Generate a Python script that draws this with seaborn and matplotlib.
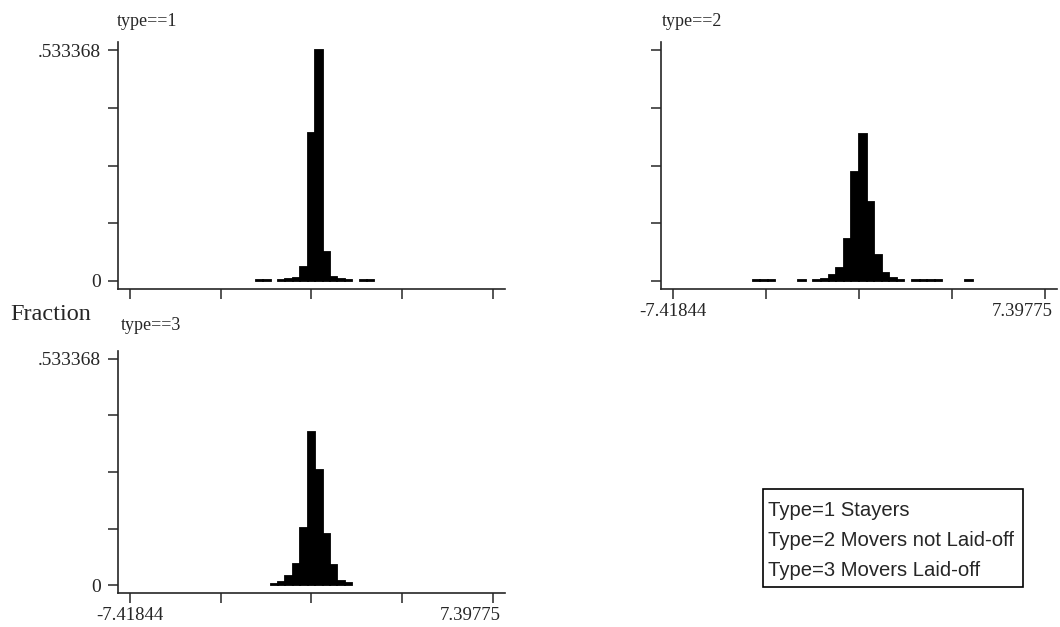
import numpy as np
import pandas as pd
import matplotlib
matplotlib.use("Agg")
import matplotlib.pyplot as plt
from matplotlib.patches import Rectangle
from matplotlib.transforms import ScaledTranslation
import seaborn as sns

# Histogram data: bin midpoints and fraction per bin, one pair per type
x_min, x_max = -7.41844, 7.39775
bin_count = 49
y_max = 0.533368

type1_mid = [-2.127, -1.825, -1.220, -0.917, -0.615, -0.313, -0.010, 0.292,
             0.594, 0.897, 1.199, 1.502, 2.106, 2.409]
type1_frac = [0.002, 0.002, 0.002, 0.004, 0.007, 0.033, 0.342, 0.533368,
              0.068, 0.009, 0.004, 0.002, 0.002, 0.002]

type2_mid = [-4.092, -3.790, -3.488, -2.278, -1.673, -1.371, -1.069, -0.766,
             -0.464, -0.162, 0.141, 0.443, 0.746, 1.048, 1.350, 1.653,
             2.257, 2.560, 2.862, 3.165, 4.374]
type2_frac = [0.002, 0.002, 0.002, 0.002, 0.003, 0.005, 0.014, 0.030,
              0.096, 0.252, 0.340, 0.182, 0.061, 0.019, 0.007, 0.003,
              0.002, 0.002, 0.002, 0.002, 0.002]

type3_mid = [-1.522, -1.220, -0.917, -0.615, -0.313, -0.010, 0.292, 0.594,
             0.897, 1.199, 1.502]
type3_frac = [0.003, 0.008, 0.021, 0.050, 0.135, 0.362, 0.271, 0.120,
              0.047, 0.010, 0.004]

panel_titles = ["type==1", "type==2", "type==3"]
legend_lines = ["Type=1 Stayers", "Type=2 Movers not Laid-off", "Type=3 Movers Laid-off"]

sns.set_style("ticks")
plt.rcParams["font.family"] = ["Liberation Serif", "DejaVu Serif"]

fig = plt.figure(figsize=(10.6, 6.27), dpi=100)
W, H = 1060, 627

def px_axes(left, top, width, height):
    return fig.add_axes([left / W, 1 - (top + height) / H, width / W, height / H])

edges = np.linspace(x_min, x_max, bin_count + 1)
step = edges[1] - edges[0]

panels = [
    (px_axes(118, 42, 387, 247), type1_mid, type1_frac, edges, False, True),
    (px_axes(661, 42, 396, 247), type2_mid, type2_frac, edges + step / 2, True, False),
    (px_axes(118, 351, 387, 242), type3_mid, type3_frac, edges, True, True),
]

xticks = np.linspace(x_min, x_max, 5)
yticks = np.linspace(0, y_max, 5)

for ax, mids, fracs, bins, xlab, ylab in panels:
    df = pd.DataFrame({"value": mids, "fraction": fracs})
    sns.histplot(data=df, x="value", weights="fraction", bins=list(bins), ax=ax,
                 color="black", edgecolor="black", linewidth=1.3, alpha=1)
    for p in ax.patches:
        if p.get_height() == 0:
            p.set_visible(False)
    ax.set_xlim(-7.9, 7.885)
    ax.set_ylim(-0.0185, 0.552)
    ax.set_xticks(xticks)
    ax.set_yticks(yticks)
    ax.set_xticklabels(["-7.41844", "", "", "", "7.39775"] if xlab else [""] * 5)
    ax.set_yticklabels(["0", "", "", "", ".533368"] if ylab else [""] * 5)
    ax.set_xlabel("")
    ax.set_ylabel("")
    sns.despine(ax=ax)
    for s in ["left", "bottom"]:
        ax.spines[s].set_linewidth(1.2)
    ax.tick_params(direction="out", length=7, width=1.1, labelsize=13.5)
    ax.tick_params(axis="y", pad=5, labelsize=14)
    ax.tick_params(axis="x", pad=3)
    # last x label sits to the left of its tick, as in the original
    last = ax.get_xticklabels()[-1]
    last.set_horizontalalignment("right")
    last.set_transform(last.get_transform() + ScaledTranslation(0.08, 0, fig.dpi_scale_trans))

fig.text(117 / W, 1 - 22 / H, panel_titles[0], fontsize=13, va="center", ha="left")
fig.text(662 / W, 1 - 21 / H, panel_titles[1], fontsize=13, va="center", ha="left")
fig.text(121 / W, 1 - 326 / H, panel_titles[2], fontsize=13, va="center", ha="left")
fig.text(51 / W, 1 - 315 / H, "Fraction", fontsize=17.5, va="center", ha="center")

# legend box
fig.patches.append(Rectangle((763 / W, 1 - 587 / H), 260 / W, 98 / H,
                             transform=fig.transFigure, fill=False,
                             edgecolor="black", linewidth=1.2))
for i, line in enumerate(legend_lines):
    fig.text(768 / W, 1 - (510 + 30 * i) / H, line, fontsize=14.6,
             family="Liberation Sans", va="center", ha="left")

plt.savefig("out.png", dpi=100)
